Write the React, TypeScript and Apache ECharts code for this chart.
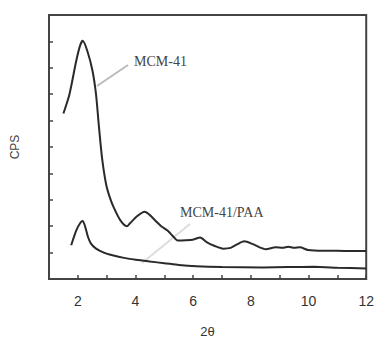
import React, { useEffect, useRef } from "react";
import * as echarts from "echarts";

const mcm41X = [1.5, 1.71, 1.94, 2.08, 2.17, 2.34, 2.51, 2.63, 2.73, 2.84, 2.98, 3.1, 3.24, 3.47, 3.7, 3.8, 4.05, 4.32, 4.5, 4.7, 4.89, 5.12, 5.3, 5.46, 5.75, 6.02, 6.24, 6.48, 6.75, 7.04, 7.3, 7.5, 7.77, 8.07, 8.3, 8.52, 8.86, 9.1, 9.3, 9.5, 9.7, 9.98, 10.5, 11, 11.5, 12];
const mcm41Y = [6.27, 7.0, 8.24, 8.85, 9.02, 8.6, 7.88, 7.0, 5.79, 4.58, 3.59, 3.12, 2.72, 2.23, 2.0, 2.1, 2.38, 2.55, 2.42, 2.2, 2.0, 1.83, 1.62, 1.46, 1.47, 1.5, 1.57, 1.39, 1.25, 1.15, 1.18, 1.3, 1.43, 1.32, 1.2, 1.13, 1.2, 1.18, 1.22, 1.18, 1.2, 1.1, 1.07, 1.07, 1.06, 1.06];
const paaX = [1.77, 1.95, 2.1, 2.17, 2.25, 2.35, 2.45, 2.62, 2.9, 3.2, 3.6, 4.1, 4.5, 5.0, 5.5, 6.1, 7.0, 8.4, 9.3, 10.2, 11, 12];
const paaY = [1.28, 1.85, 2.15, 2.2, 2.0, 1.6, 1.35, 1.16, 1.0, 0.9, 0.8, 0.72, 0.66, 0.6, 0.53, 0.48, 0.45, 0.44, 0.45, 0.46, 0.43, 0.4];
const xTickLabels = ["2", "4", "6", "8", "10", "12"];

export default function App() {
  const ref = useRef<HTMLDivElement>(null);
  useEffect(() => {
    if (!ref.current) return;
    const chart = echarts.init(ref.current, null, { renderer: "svg" });
    const axisColor = "#444";
    chart.setOption({
      animation: false,
      grid: { left: 49, right: 6, top: 15, bottom: 55, show: true, borderColor: axisColor, borderWidth: 2 },
      xAxis: {
        type: "value",
        min: 1,
        max: 12,
        interval: 1,
        name: "2θ",
        nameLocation: "middle",
        nameGap: 46,
        nameTextStyle: { fontFamily: "Liberation Sans", fontSize: 13, color: "#333" },
        axisLine: { lineStyle: { color: axisColor, width: 2 } },
        axisTick: { inside: true, length: 4, lineStyle: { color: axisColor, width: 1.5 } },
        splitLine: { show: false },
        axisLabel: {
          fontFamily: "Liberation Sans",
          fontSize: 14,
          color: "#333",
          margin: 15,
          formatter: (v: number) => (xTickLabels.includes(String(v)) ? String(v) : ""),
        },
      },
      yAxis: {
        type: "value",
        min: 0,
        max: 10,
        interval: 1,
        name: "CPS",
        nameLocation: "middle",
        nameGap: 28,
        nameRotate: 90,
        nameTextStyle: { fontFamily: "Liberation Sans", fontSize: 12, color: "#444" },
        axisLine: { lineStyle: { color: axisColor, width: 2 } },
        axisTick: { inside: true, length: 4, lineStyle: { color: axisColor, width: 1.5 } },
        axisLabel: { show: false },
        splitLine: { show: false },
      },
      series: [
        {
          name: "MCM-41",
          type: "line",
          data: mcm41X.map((x, i) => [x, mcm41Y[i]]),
          showSymbol: false,
          smooth: 0.25,
          lineStyle: { color: "#2a2a2a", width: 2 },
        },
        {
          name: "MCM-41/PAA",
          type: "line",
          data: paaX.map((x, i) => [x, paaY[i]]),
          showSymbol: false,
          smooth: 0.2,
          lineStyle: { color: "#2a2a2a", width: 2 },
        },
      ],
      graphic: [
        { type: "line", shape: { x1: 97, y1: 86, x2: 128, y2: 65 }, style: { stroke: "#bbb", lineWidth: 2 } },
        { type: "text", x: 134, y: 54, style: { text: "MCM-41", font: "14px 'Liberation Serif'", fill: "#444" } },
        { type: "line", shape: { x1: 142, y1: 263, x2: 190, y2: 224 }, style: { stroke: "#ddd", lineWidth: 2 } },
        { type: "text", x: 180, y: 205, style: { text: "MCM-41/PAA", font: "14px 'Liberation Serif'", fill: "#444" } },
      ],
    });
    return () => chart.dispose();
  }, []);
  return <div ref={ref} style={{ width: 377, height: 343, position: "absolute", left: 0, top: 0 }} />;
}
